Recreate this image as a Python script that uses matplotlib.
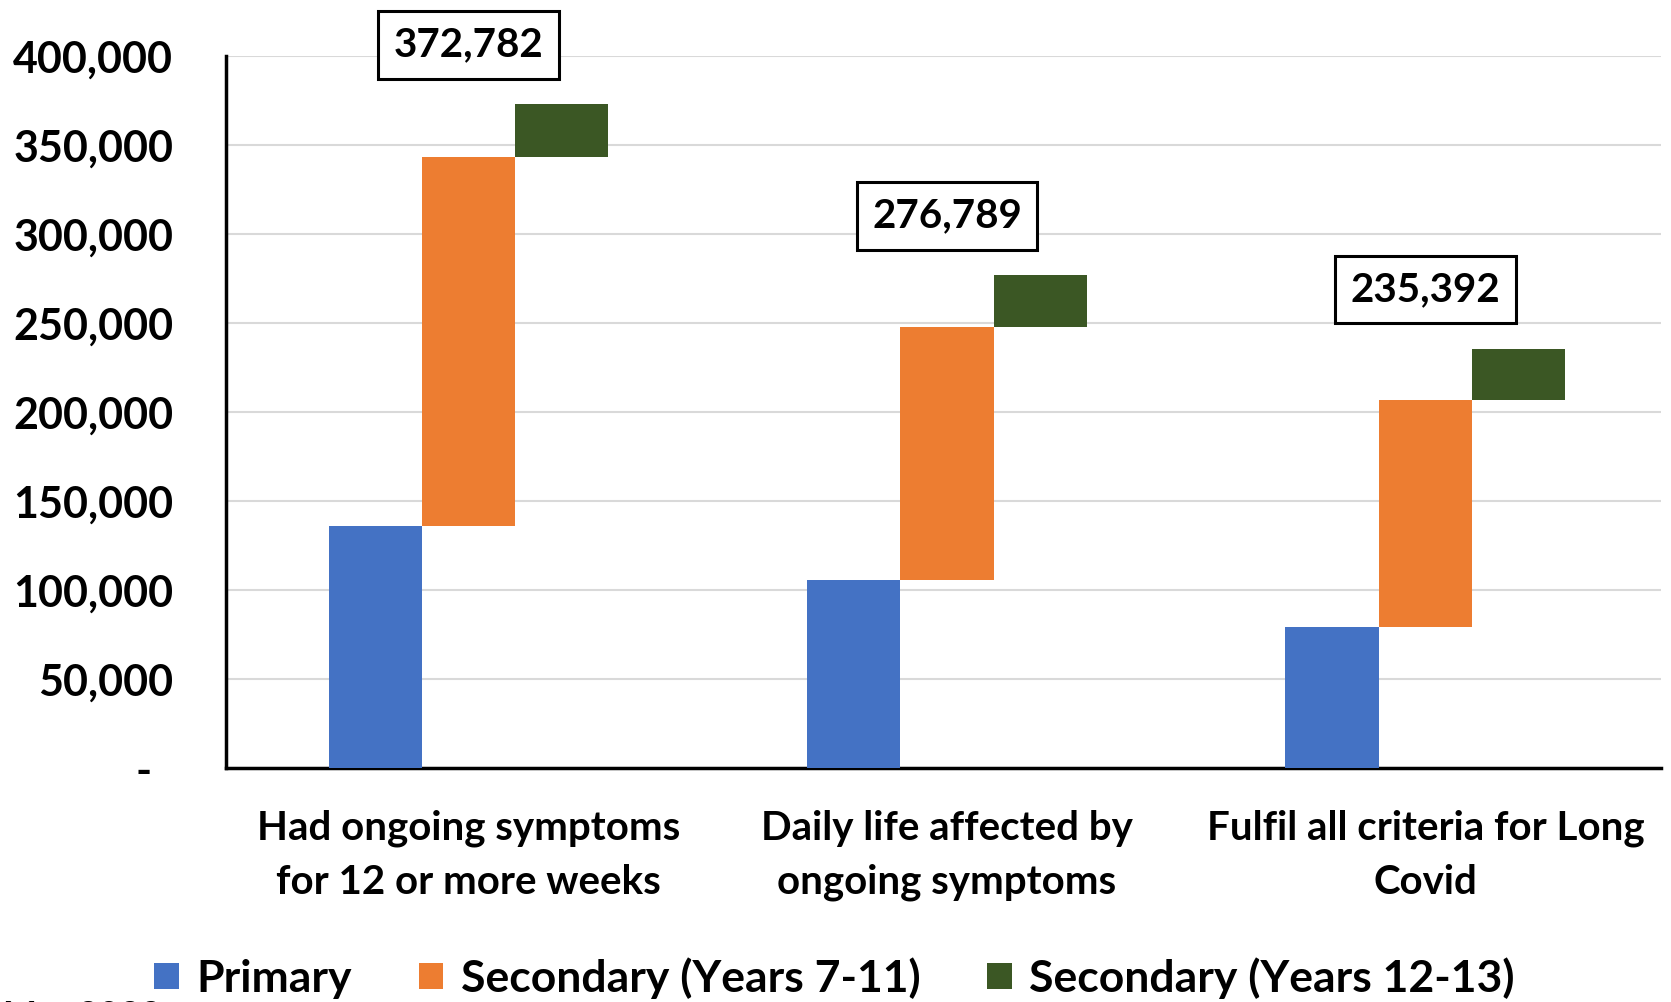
import matplotlib.pyplot as plt
import numpy as np
from matplotlib.ticker import FuncFormatter

plt.rcParams['font.family'] = ['Lato', 'DejaVu Sans']

# data
categories = ['Had ongoing symptoms\nfor 12 or more weeks',
              'Daily life affected by\nongoing symptoms',
              'Fulfil all criteria for Long\nCovid']
primary = [136000, 105800, 79400]
sec_7_11 = [207400, 141800, 127300]
sec_12_13 = [29382, 29189, 28692]
totals = [372782, 276789, 235392]
series_names = ['Primary', 'Secondary (Years 7-11)', 'Secondary (Years 12-13)']

colors = ['#4472C4', '#ED7D31', '#3B5724']

fig = plt.figure(figsize=(16.71, 10.02), dpi=100)
ax = fig.add_axes([0.1352, 0.2335, 0.859, 0.7106])

x = np.arange(len(categories))
w = 0.195
primary = np.array(primary)
sec_7_11 = np.array(sec_7_11)
sec_12_13 = np.array(sec_12_13)

ax.bar(x - w, primary, w, color=colors[0], label=series_names[0], zorder=3)
ax.bar(x, sec_7_11, w, bottom=primary, color=colors[1], label=series_names[1], zorder=3)
ax.bar(x + w, sec_12_13, w, bottom=primary + sec_7_11, color=colors[2],
       label=series_names[2], zorder=3)

# total labels in boxes
for xi, t in zip(x, totals):
    ax.text(xi, t + 33500, f'{t:,}', ha='center', va='center', fontsize=29,
            fontweight='bold', clip_on=False, zorder=5,
            bbox=dict(boxstyle='square,pad=0.38', facecolor='white',
                      edgecolor='black', linewidth=2.2))

ax.set_xlim(-0.507, 2.493)
ax.set_ylim(0, 400000)
ax.set_yticks(np.arange(0, 400001, 50000))
ax.yaxis.set_major_formatter(FuncFormatter(lambda v, p: '-  ' if v == 0 else f'{v:,.0f}'))
ax.set_xticks(x)
ax.set_xticklabels(categories, fontsize=29, fontweight='bold', linespacing=1.55)
for lab in ax.get_yticklabels():
    lab.set_fontsize(31)
    lab.set_fontweight('bold')
ax.tick_params(axis='y', length=0, pad=38)
ax.tick_params(axis='x', length=0, pad=30)

ax.grid(axis='y', color='#D9D9D9', linewidth=1.5, zorder=0)
for s in ['top', 'right']:
    ax.spines[s].set_visible(False)
ax.spines['left'].set_linewidth(2.5)
ax.spines['bottom'].set_linewidth(2.5)

fig.legend(loc='center', bbox_to_anchor=(0.4994, 0.024), ncol=3, frameon=False,
           prop={'size': 32, 'weight': 'bold'}, handlelength=0.55, handleheight=0.55,
           handletextpad=0.4, columnspacing=1.5)

fig.text(0.002, 0.002, 'Mar 2022', fontsize=26, fontweight='bold', va='top')

fig.savefig('out.png', dpi=100)
